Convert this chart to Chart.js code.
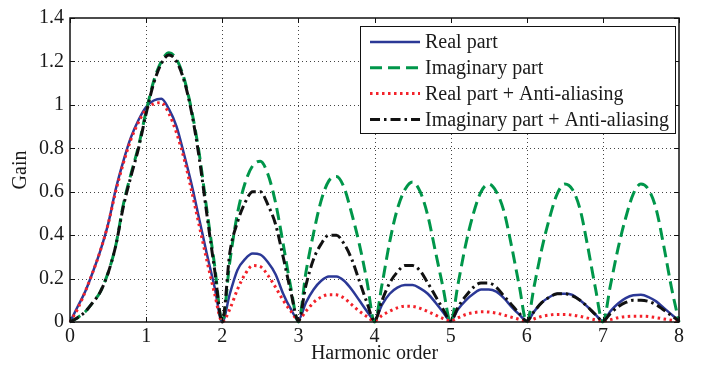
<!DOCTYPE html>
<html>
<head>
<meta charset="utf-8">
<script src="https://cdn.jsdelivr.net/npm/chart.js@4.4.0/dist/chart.umd.min.js"></script>
<style>
  html, body { margin: 0; padding: 0; background: #fff; }
  #wrap { width: 702px; height: 375px; }
</style>
</head>
<body>
<div id="wrap"><canvas id="c" width="702" height="375"></canvas></div>
<script>
// Harmonic order sample points
const harmonicOrder = [
  0.0, 0.1, 0.2, 0.3, 0.4, 0.5, 0.6, 0.7, 0.8, 0.9,
  1.0, 1.1, 1.2, 1.3, 1.4, 1.5, 1.6, 1.7, 1.8, 1.9,
  2.0, 2.1, 2.2, 2.3, 2.4, 2.5, 2.6, 2.7, 2.8, 2.9,
  3.0, 3.1, 3.2, 3.3, 3.4, 3.5, 3.6, 3.7, 3.8, 3.9,
  4.0, 4.1, 4.2, 4.3, 4.4, 4.5, 4.6, 4.7, 4.8, 4.9,
  5.0, 5.1, 5.2, 5.3, 5.4, 5.5, 5.6, 5.7, 5.8, 5.9,
  6.0, 6.1, 6.2, 6.3, 6.4, 6.5, 6.6, 6.7, 6.8, 6.9,
  7.0, 7.1, 7.2, 7.3, 7.4, 7.5, 7.6, 7.7, 7.8, 7.9,
  8.0
];

// Gain of the real part
const realPart = [
  0, 0.07, 0.14, 0.23, 0.33, 0.45, 0.61, 0.74, 0.85, 0.93,
  0.99, 1.02, 1.028, 0.98, 0.90, 0.77, 0.63, 0.47, 0.31, 0.16,
  0, 0.13, 0.24, 0.29, 0.315, 0.31, 0.275, 0.22, 0.13, 0.06,
  0.01, 0.09, 0.15, 0.19, 0.21, 0.21, 0.19, 0.15, 0.10, 0.05,
  0.01, 0.08, 0.13, 0.158, 0.17, 0.17, 0.155, 0.13, 0.09, 0.045,
  0.005, 0.06, 0.10, 0.13, 0.15, 0.15, 0.14, 0.11, 0.07, 0.035,
  0.005, 0.05, 0.09, 0.115, 0.13, 0.13, 0.125, 0.10, 0.07, 0.035,
  0.005, 0.05, 0.085, 0.11, 0.123, 0.125, 0.115, 0.095, 0.065, 0.035,
  0.005
];

// Gain of the imaginary part
const imagPart = [
  0, 0.02, 0.047, 0.09, 0.14, 0.227, 0.35, 0.54, 0.68, 0.81,
  0.97, 1.11, 1.20, 1.24, 1.21, 1.12, 0.97, 0.77, 0.51, 0.26,
  0, 0.28, 0.50, 0.64, 0.72, 0.74, 0.68, 0.55, 0.36, 0.16,
  0, 0.23, 0.41, 0.56, 0.65, 0.67, 0.62, 0.50, 0.36, 0.19,
  0, 0.175, 0.37, 0.52, 0.61, 0.645, 0.60, 0.49, 0.325, 0.16,
  0, 0.18, 0.36, 0.50, 0.60, 0.635, 0.60, 0.51, 0.35, 0.17,
  0, 0.17, 0.34, 0.48, 0.59, 0.635, 0.61, 0.52, 0.35, 0.16,
  0, 0.17, 0.34, 0.48, 0.59, 0.635, 0.61, 0.52, 0.35, 0.16,
  0
];

// Gain of the real part with the anti-aliasing filter
const realPartAA = [
  0, 0.06, 0.14, 0.23, 0.33, 0.45, 0.60, 0.73, 0.84, 0.92,
  0.98, 1.005, 1.01, 0.96, 0.87, 0.75, 0.60, 0.44, 0.28, 0.13,
  0, 0.06, 0.15, 0.22, 0.26, 0.255, 0.215, 0.16, 0.10, 0.05,
  0.01, 0.05, 0.09, 0.115, 0.126, 0.125, 0.11, 0.08, 0.05, 0.025,
  0.005, 0.03, 0.05, 0.065, 0.073, 0.072, 0.063, 0.048, 0.032, 0.016,
  0.005, 0.02, 0.035, 0.043, 0.047, 0.046, 0.041, 0.032, 0.022, 0.012,
  0.004, 0.015, 0.026, 0.032, 0.035, 0.035, 0.032, 0.026, 0.018, 0.01,
  0.004, 0.011, 0.02, 0.025, 0.027, 0.027, 0.025, 0.02, 0.014, 0.008,
  0.003
];

// Gain of the imaginary part with the anti-aliasing filter
const imagPartAA = [
  0, 0.02, 0.047, 0.09, 0.14, 0.225, 0.35, 0.53, 0.67, 0.80,
  0.96, 1.10, 1.19, 1.23, 1.20, 1.11, 0.96, 0.75, 0.49, 0.24,
  0, 0.32, 0.46, 0.55, 0.60, 0.60, 0.54, 0.45, 0.30, 0.14,
  0.005, 0.17, 0.29, 0.36, 0.40, 0.40, 0.36, 0.29, 0.19, 0.09,
  0.005, 0.10, 0.18, 0.23, 0.26, 0.26, 0.235, 0.18, 0.12, 0.06,
  0.005, 0.07, 0.12, 0.16, 0.18, 0.18, 0.16, 0.12, 0.08, 0.04,
  0.005, 0.05, 0.09, 0.115, 0.13, 0.13, 0.12, 0.10, 0.07, 0.035,
  0.005, 0.04, 0.07, 0.09, 0.10, 0.10, 0.095, 0.08, 0.055, 0.03,
  0.005
];

const seriesLabels = [
  'Real part',
  'Imaginary part',
  'Real part + Anti-aliasing',
  'Imaginary part + Anti-aliasing'
];

const xTicks = [0, 1, 2, 3, 4, 5, 6, 7, 8];
const yTicks = [0, 0.2, 0.4, 0.6, 0.8, 1, 1.2, 1.4];
const yTickLabels = ['0', '0.2', '0.4', '0.6', '0.8', '1', '1.2', '1.4'];
const xTitle = 'Harmonic order';
const yTitle = 'Gain';

const FONT = "'Liberation Serif', 'Times New Roman', serif";
const TEXT = '#1a1a1a';

const toPoints = (ys) => harmonicOrder.map((x, i) => ({ x: x, y: ys[i] }));

const styles = [
  { color: '#2b3896', width: 2.5, dash: [] },
  { color: '#00964a', width: 3, dash: [12, 6] },
  { color: '#f3222a', width: 3, dash: [2.5, 3.5] },
  { color: '#111111', width: 3, dash: [10, 4, 2.5, 4] }
];
const seriesData = [realPart, imagPart, realPartAA, imagPartAA];

const datasets = seriesData.map((ys, i) => ({
  label: seriesLabels[i],
  data: toPoints(ys),
  borderColor: styles[i].color,
  borderWidth: styles[i].width,
  borderDash: styles[i].dash,
  pointRadius: 0,
  fill: false,
  clip: false,
  order: 4 - i
}));

// Dotted grid, axes box with inward ticks, legend box and axis titles
const framePlugin = {
  id: 'frame',
  beforeDatasetsDraw(chart) {
    const { ctx, chartArea: a, scales: { x, y } } = chart;
    ctx.save();
    ctx.strokeStyle = '#444';
    ctx.lineWidth = 1;
    ctx.setLineDash([1, 3]);
    xTicks.forEach(v => {
      if (v === 0 || v === 8) return;
      const px = Math.round(x.getPixelForValue(v)) + 0.5;
      ctx.beginPath(); ctx.moveTo(px, a.top); ctx.lineTo(px, a.bottom); ctx.stroke();
    });
    yTicks.forEach(v => {
      if (v === 0 || v === 1.4) return;
      const py = Math.round(y.getPixelForValue(v)) + 0.5;
      ctx.beginPath(); ctx.moveTo(a.left, py); ctx.lineTo(a.right, py); ctx.stroke();
    });
    ctx.restore();
  },
  afterDatasetsDraw(chart) {
    const { ctx, chartArea: a, scales: { x, y } } = chart;
    ctx.save();
    ctx.setLineDash([]);
    ctx.strokeStyle = '#111';
    ctx.lineWidth = 1.5;
    ctx.strokeRect(a.left, a.top, a.right - a.left, a.bottom - a.top);
    ctx.lineWidth = 1;
    const tl = 5;
    xTicks.forEach(v => {
      const px = Math.round(x.getPixelForValue(v)) + 0.5;
      ctx.beginPath();
      ctx.moveTo(px, a.bottom); ctx.lineTo(px, a.bottom - tl);
      ctx.moveTo(px, a.top); ctx.lineTo(px, a.top + tl);
      ctx.stroke();
    });
    yTicks.forEach(v => {
      const py = Math.round(y.getPixelForValue(v)) + 0.5;
      ctx.beginPath();
      ctx.moveTo(a.left, py); ctx.lineTo(a.left + tl, py);
      ctx.moveTo(a.right, py); ctx.lineTo(a.right - tl, py);
      ctx.stroke();
    });

    // legend
    ctx.font = '20px ' + FONT;
    const maxText = Math.max(...seriesLabels.map(s => ctx.measureText(s).width));
    const w = 10 + 50 + 5 + maxText + 6;
    const h = 107;
    const lx = a.right - 4 - w;
    const ly = a.top + 8;
    ctx.fillStyle = '#fff';
    ctx.fillRect(lx, ly, w, h);
    ctx.strokeStyle = '#111';
    ctx.lineWidth = 1;
    ctx.strokeRect(Math.round(lx) + 0.5, Math.round(ly) + 0.5, Math.round(w), h);
    chart.data.datasets.forEach((ds, i) => {
      const cy = ly + 16 + i * 25.8;
      ctx.strokeStyle = ds.borderColor;
      ctx.lineWidth = ds.borderWidth;
      ctx.setLineDash(ds.borderDash);
      ctx.beginPath(); ctx.moveTo(lx + 10, cy); ctx.lineTo(lx + 60, cy); ctx.stroke();
      ctx.setLineDash([]);
      ctx.fillStyle = TEXT;
      ctx.textAlign = 'left';
      ctx.textBaseline = 'middle';
      ctx.fillText(ds.label, lx + 65, cy + 1);
    });

    // axis titles
    ctx.fillStyle = TEXT;
    ctx.font = '20px ' + FONT;
    ctx.textAlign = 'center';
    ctx.textBaseline = 'middle';
    ctx.fillText(xTitle, (a.left + a.right) / 2, 354);
    ctx.save();
    ctx.translate(21, (a.top + a.bottom) / 2);
    ctx.rotate(-Math.PI / 2);
    ctx.fillText(yTitle, 0, 0);
    ctx.restore();
    ctx.restore();
  }
};

Chart.defaults.font.family = FONT;
Chart.defaults.font.size = 20;
Chart.defaults.color = TEXT;

new Chart(document.getElementById('c'), {
  type: 'line',
  data: { datasets: datasets },
  options: {
    responsive: false,
    animation: false,
    devicePixelRatio: 1,
    layout: { padding: { left: 0, top: 12, right: 23, bottom: 0 } },
    elements: { line: { cubicInterpolationMode: 'monotone' }, point: { radius: 0 } },
    plugins: { legend: { display: false }, tooltip: { enabled: false } },
    scales: {
      x: {
        type: 'linear', min: 0, max: 8,
        afterBuildTicks: s => { s.ticks = xTicks.map(v => ({ value: v })); },
        afterFit: s => { s.height = 53; },
        grid: { display: false, drawTicks: false },
        border: { display: false },
        ticks: { padding: 3, autoSkip: false, maxRotation: 0, callback: v => String(v) }
      },
      y: {
        type: 'linear', min: 0, max: 1.4,
        afterBuildTicks: s => { s.ticks = yTicks.map(v => ({ value: v })); },
        afterFit: s => { s.width = 70; },
        grid: { display: false, drawTicks: false },
        border: { display: false },
        ticks: { padding: 6, autoSkip: false, callback: (v, i) => yTickLabels[i] }
      }
    }
  },
  plugins: [framePlugin]
});
</script>
</body>
</html>
